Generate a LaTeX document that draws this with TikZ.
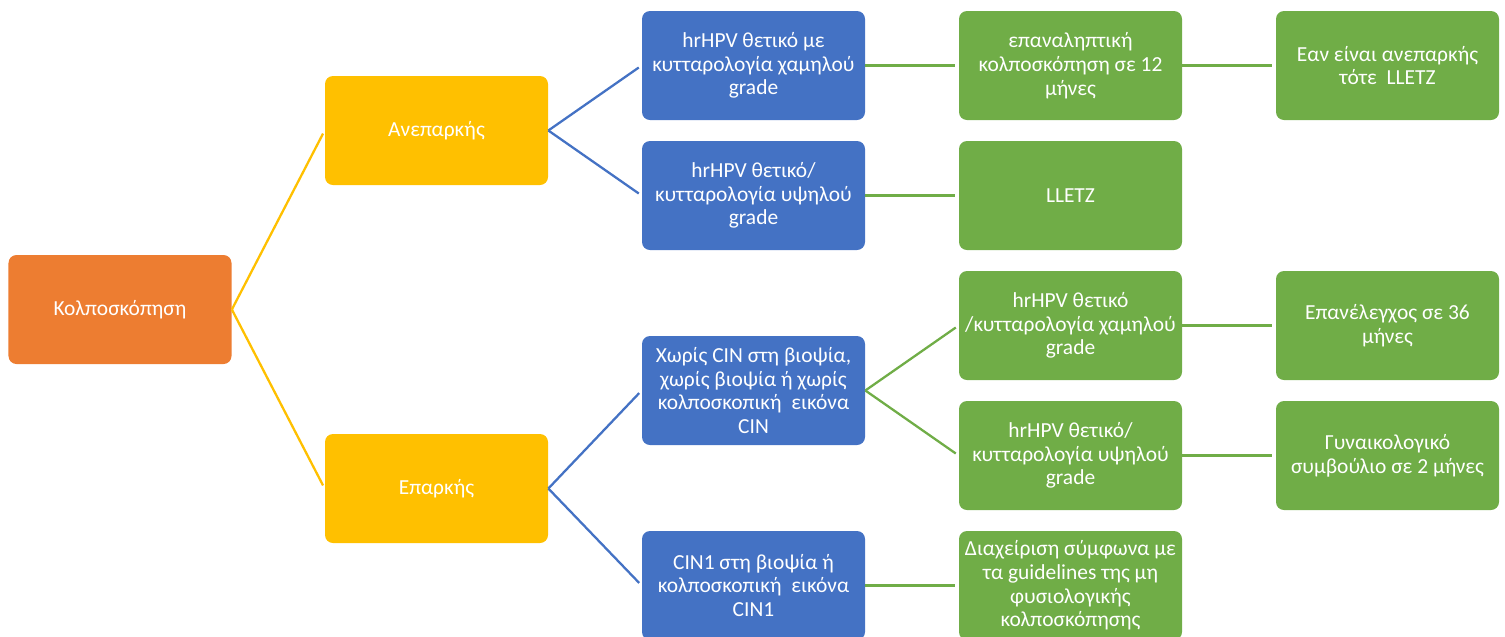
\documentclass[tikz,border=0pt]{standalone}
\usepackage{fontspec}
\setmainfont{Carlito}
\definecolor{kOrange}{HTML}{ED7D31}
\definecolor{kGold}{HTML}{FFC000}
\definecolor{kBlue}{HTML}{4472C4}
\definecolor{kGreen}{HTML}{70AD47}
\tikzset{
  box/.style={rounded corners=0.16cm, minimum width=4.46cm, minimum height=2.18cm,
    align=center, text=white, inner sep=2pt, font=\fontsize{12.2}{13.5}\selectfont},
  link/.style={line width=1.3pt, shorten >=0.07cm}
}
\begin{document}
\begin{tikzpicture}

\useasboundingbox (0,0) rectangle (30.10,-12.72);
\clip (0,0) rectangle (30.10,-12.72);

% root and first split
\node [box, fill=kOrange] (root) at (2.40,-6.19) {Κολποσκόπηση};
\node [box, fill=kGold] (anep) at (8.73,-2.61) {Ανεπαρκής};
\node [box, fill=kGold] (epar) at (8.73,-9.77) {Επαρκής};

% second column
\node [box, fill=kBlue] (b1) at (15.07,-1.31) {hrHPV θετικό με\\κυτταρολογία χαμηλού\\grade};
\node [box, fill=kBlue] (b2) at (15.07,-3.91) {hrHPV θετικό/\\κυτταρολογία υψηλού\\grade};
\node [box, fill=kBlue] (b3) at (15.07,-7.81) {Χωρίς CIN στη βιοψία,\\χωρίς βιοψία ή χωρίς\\κολποσκοπική\ \ εικόνα\\CIN};
\node [box, fill=kBlue] (b4) at (15.07,-11.71) {CIN1 στη βιοψία ή\\κολποσκοπική\ \ εικόνα\\CIN1};

% third column
\node [box, fill=kGreen] (g1) at (21.41,-1.31) {επαναληπτική\\κολποσκόπηση σε 12\\μήνες};
\node [box, fill=kGreen] (g2) at (21.41,-3.91) {LLETZ};
\node [box, fill=kGreen] (g3) at (21.41,-6.51) {hrHPV θετικό\\/κυτταρολογία χαμηλού\\grade};
\node [box, fill=kGreen] (g4) at (21.41,-9.11) {hrHPV θετικό/\\κυτταρολογία υψηλού\\grade};
\node [box, fill=kGreen] (g5) at (21.41,-11.71) {Διαχείριση σύμφωνα με\\τα guidelines της μη\\φυσιολογικής\\κολποσκόπησης};

% fourth column
\node [box, fill=kGreen] (r1) at (27.75,-1.31) {Εαν είναι ανεπαρκής\\τότε\ \ LLETZ};
\node [box, fill=kGreen] (r2) at (27.75,-6.51) {Επανέλεγχος σε 36\\μήνες};
\node [box, fill=kGreen] (r3) at (27.75,-9.11) {Γυναικολογικό\\συμβούλιο σε 2 μήνες};

\begin{scope}[link, kGold]
\draw (root.east) -- (anep.west); %root-anep
\draw (root.east) -- (epar.west); %root-epar
\end{scope}

\begin{scope}[link, kBlue]
\draw (anep.east) -- (b1.west);
\draw (anep.east) -- (b2.west);
\draw (epar.east) -- (b3.west);
\draw (epar.east) -- (b4.west);
\end{scope}

\begin{scope}[link, kGreen]
\draw (b1.east) -- (g1.west);
\draw (b2.east) -- (g2.west);
\draw (b3.east) -- (g3.west);
\draw (b3.east) -- (g4.west);
\draw (b4.east) -- (g5.west);
\draw (g1.east) -- (r1.west);
\draw (g3.east) -- (r2.west);
\draw (g4.east) -- (r3.west);
\end{scope}

\end{tikzpicture}
\end{document}
